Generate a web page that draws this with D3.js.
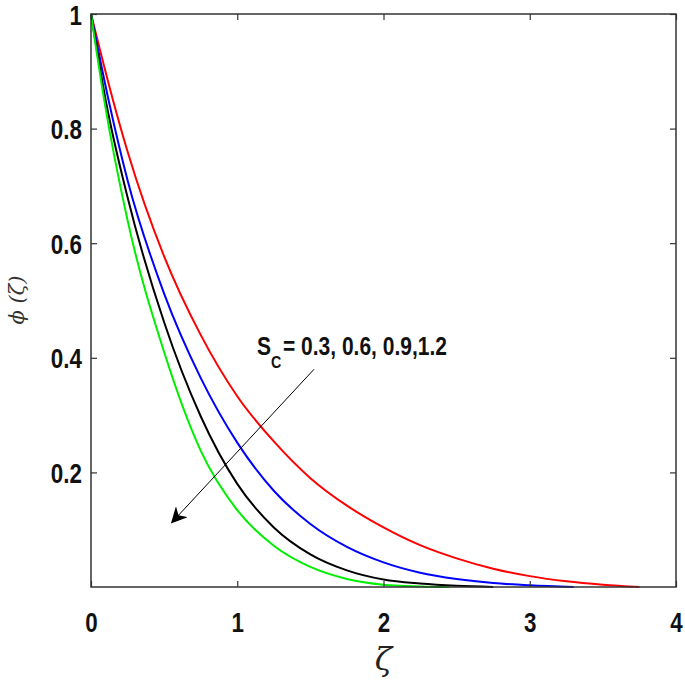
<!DOCTYPE html>
<html>
<head>
<meta charset="utf-8">
<script src="https://cdn.jsdelivr.net/npm/d3@7"></script>
<style>
  body { margin: 0; background: #fff; }
  .tick-label { font-family: "Liberation Sans", Arial, sans-serif; font-weight: bold; }
</style>
</head>
<body>
<div id="chart"></div>
<script>
// chart dimensions
const graphicWidth = 685;
const graphicHeight = 692;
const margin = {top: 14, right: 9, bottom: 105, left: 91};
const plotWidth = graphicWidth - margin.left - margin.right;
const plotHeight = graphicHeight - margin.top - margin.bottom;

// data: zeta positions and phi values for each Sc
const zetaRed   = [0, 0.15, 0.25, 0.5, 0.75, 1.0, 1.25, 1.5, 1.75, 2.0, 2.25, 2.5, 2.75, 3.0, 3.25, 3.5, 3.75];
const phiRed    = [1, 0.85, 0.76, 0.577, 0.44, 0.333, 0.254, 0.19, 0.142, 0.104, 0.073, 0.05, 0.032, 0.019, 0.01, 0.004, 0];
const zetaBlue  = [0, 0.12, 0.25, 0.5, 0.75, 1.0, 1.25, 1.5, 1.75, 2.0, 2.25, 2.5, 2.75, 3.0, 3.3];
const phiBlue   = [1, 0.85, 0.71, 0.512, 0.365, 0.252, 0.168, 0.11, 0.07, 0.043, 0.025, 0.014, 0.007, 0.003, 0];
const zetaBlack = [0, 0.1, 0.25, 0.5, 0.75, 1.0, 1.25, 1.5, 1.75, 2.0, 2.25, 2.5, 2.75];
const phiBlack  = [1, 0.85, 0.68, 0.462, 0.298, 0.18, 0.104, 0.057, 0.029, 0.013, 0.006, 0.002, 0];
const zetaGreen = [0, 0.09, 0.25, 0.5, 0.75, 1.0, 1.25, 1.5, 1.75, 2.0, 2.25, 2.45];
const phiGreen  = [1, 0.85, 0.64, 0.41, 0.238, 0.134, 0.072, 0.035, 0.014, 0.004, 0.001, 0];

const seriesColors = ['#ff0000', '#0000ff', '#000000', '#00ee00'];
const xTicks = [0, 1, 2, 3, 4];
const yTicks = [0.2, 0.4, 0.6, 0.8, 1];

// annotation arrow (data coords) and text
const arrowFrom = {x: 1.525, y: 0.38};
const arrowTo = {x: 0.554, y: 0.113};
const labelPos = {x: 1.135, y: 0.405};

const svg = d3.select('#chart')
    .append('svg')
    .attr('width', graphicWidth)
    .attr('height', graphicHeight);

const defs = svg.append('defs');
defs.append('marker')
    .attr('id', 'head')
    .attr('viewBox', '0 0 10 10')
    .attr('refX', 9)
    .attr('refY', 5)
    .attr('markerWidth', 16)
    .attr('markerHeight', 16)
    .attr('markerUnits', 'userSpaceOnUse')
    .attr('orient', 'auto')
    .append('path')
    .attr('d', 'M0,0 L10,5 L0,10 L3,5 Z')
    .attr('fill', '#000');

const g = svg.append('g')
    .attr('transform', 'translate(' + margin.left + ',' + margin.top + ')');

const x = d3.scaleLinear().domain([0, 4]).range([0, plotWidth]);
const y = d3.scaleLinear().domain([0, 1]).range([plotHeight, 0]);

// curves
const series = [
    {zeta: zetaRed, phi: phiRed},
    {zeta: zetaBlue, phi: phiBlue},
    {zeta: zetaBlack, phi: phiBlack},
    {zeta: zetaGreen, phi: phiGreen}
];
const line = d3.line()
    .curve(d3.curveMonotoneX)
    .x(d => x(d[0]))
    .y(d => y(d[1]));
series.forEach((s, i) => {
    g.append('path')
        .datum(d3.zip(s.zeta, s.phi))
        .attr('fill', 'none')
        .attr('stroke', seriesColors[i])
        .attr('stroke-width', 2)
        .attr('d', line);
});

// box with inward ticks on all four sides
function styleAxis(sel) {
    sel.select('.domain').remove();
    sel.selectAll('.tick line').attr('stroke', '#333').attr('stroke-width', 1.2);
}
g.append('g')
    .attr('transform', 'translate(0,' + plotHeight + ')')
    .call(d3.axisBottom(x).tickValues(xTicks).tickSize(-6).tickFormat(d3.format('d')))
    .call(styleAxis)
    .selectAll('text')
    .attr('class', 'tick-label')
    .attr('font-size', 28)
    .attr('fill', '#111')
    .attr('y', 0)
    .attr('dy', 0)
    .attr('transform', 'translate(0,45) scale(0.8,1)');
g.append('g')
    .call(d3.axisTop(x).tickValues(xTicks).tickSize(-6).tickFormat(''))
    .call(styleAxis);
g.append('g')
    .call(d3.axisLeft(y).tickValues(yTicks).tickSize(-6).tickFormat(d => d === 1 ? '1' : d3.format('.1f')(d)))
    .call(styleAxis)
    .selectAll('text')
    .attr('class', 'tick-label')
    .attr('font-size', 28)
    .attr('fill', '#111')
    .attr('x', 0)
    .attr('dy', '0.36em')
    .attr('transform', 'translate(-9,0) scale(0.8,1)');
g.append('g')
    .attr('transform', 'translate(' + plotWidth + ',0)')
    .call(d3.axisRight(y).tickValues(yTicks).tickSize(-6).tickFormat(''))
    .call(styleAxis);

g.append('rect')
    .attr('width', plotWidth)
    .attr('height', plotHeight)
    .attr('fill', 'none')
    .attr('stroke', '#333')
    .attr('stroke-width', 1.5);

// arrow and annotation
g.append('line')
    .attr('x1', x(arrowFrom.x))
    .attr('y1', y(arrowFrom.y))
    .attr('x2', x(arrowTo.x))
    .attr('y2', y(arrowTo.y))
    .attr('stroke', '#000')
    .attr('stroke-width', 1)
    .attr('marker-end', 'url(#head)');

const lab = g.append('text')
    .attr('class', 'tick-label')
    .attr('transform', 'translate(' + x(labelPos.x) + ',' + y(labelPos.y) + ') scale(0.84,1)')
    .attr('font-size', 25)
    .attr('fill', '#111');
lab.append('tspan').text('S');
lab.append('tspan').attr('font-size', 17).attr('dy', 13).text('C');
lab.append('tspan').attr('dy', -13).attr('dx', 2).text('= 0.3, 0.6, 0.9,1.2');

// axis titles
svg.append('text')
    .attr('x', margin.left + x(2))
    .attr('y', 670)
    .attr('text-anchor', 'middle')
    .attr('font-family', 'DejaVu Serif, serif')
    .attr('font-style', 'italic')
    .attr('font-size', 32)
    .attr('fill', '#222')
    .text('ζ');

svg.append('text')
    .attr('transform', 'translate(24,300) rotate(-90)')
    .attr('text-anchor', 'middle')
    .attr('font-family', 'DejaVu Serif, serif')
    .attr('font-style', 'italic')
    .attr('font-size', 21)
    .attr('fill', '#333')
    .text('ϕ (ζ)');
</script>
</body>
</html>
